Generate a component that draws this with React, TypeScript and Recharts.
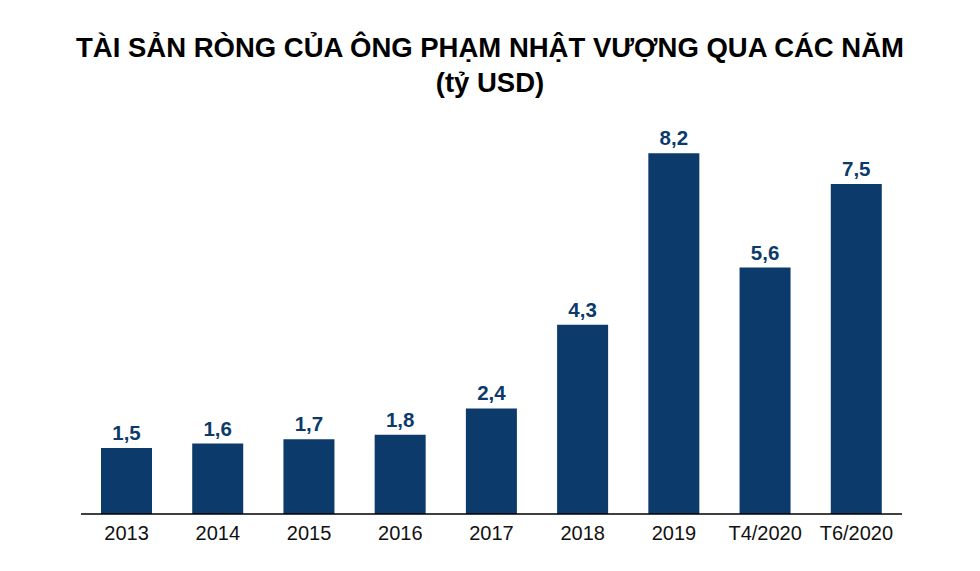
import { Bar, BarChart, LabelList, XAxis, YAxis } from "recharts";

const categories = ["2013", "2014", "2015", "2016", "2017", "2018", "2019", "T4/2020", "T6/2020"];
const netWorth = [1.5, 1.6, 1.7, 1.8, 2.4, 4.3, 8.2, 5.6, 7.5];

const FONT = "'Liberation Sans', Arial, Helvetica, sans-serif";
const NAVY = "#0b3a6b";

export default function App() {
  const data = categories.map((c, i) => ({ name: c, value: netWorth[i] }));

  return (
    <div style={{ position: "absolute", left: 0, top: 0, width: 980, height: 571, background: "#fff" }}>
      <div
        style={{
          position: "absolute",
          left: 0,
          top: 30,
          width: 980,
          textAlign: "center",
          fontFamily: FONT,
          fontWeight: 700,
          fontSize: 27.5,
          lineHeight: "35px",
          color: "#000",
        }}
      >
        TÀI SẢN RÒNG CỦA ÔNG PHẠM NHẬT VƯỢNG QUA CÁC NĂM
        <br />
        (tỷ USD)
      </div>
      <BarChart
        width={980}
        height={571}
        data={data}
        margin={{ top: 118, right: 78, left: 81, bottom: 27 }}
        barCategoryGap="45%"
      >
        <XAxis
          dataKey="name"
          height={30}
          axisLine={{ stroke: "#000", strokeWidth: 1.5 }}
          tickLine={false}
          tickSize={0}
          tickMargin={12}
          tick={{ fill: "#111", fontSize: 20, fontFamily: FONT }}
          interval={0}
        />
        <YAxis hide domain={[0, 9]} />
        <Bar dataKey="value" fill={NAVY} barSize={51} isAnimationActive={false}>
          <LabelList
            dataKey="value"
            position="top"
            offset={8}
            formatter={(v: number) => String(v).replace(".", ",")}
            style={{ fill: NAVY, fontSize: 20.5, fontWeight: 700, fontFamily: FONT }}
          />
        </Bar>
      </BarChart>
    </div>
  );
}
